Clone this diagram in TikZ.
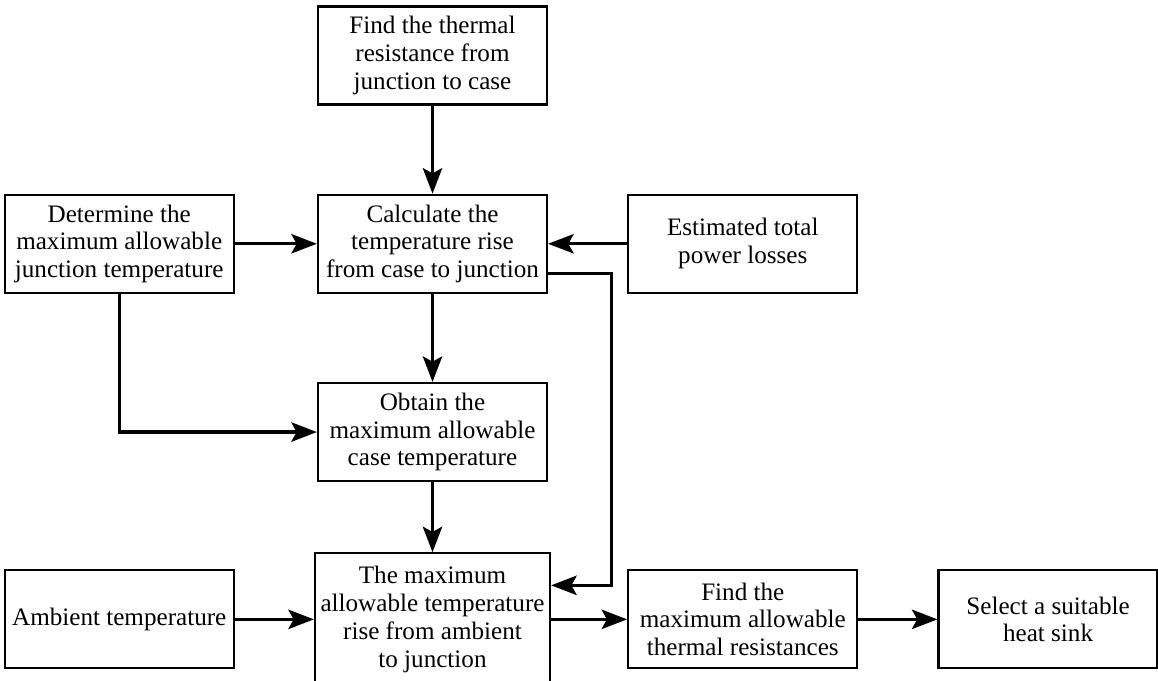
\documentclass[tikz,border=0pt]{standalone}
\usepackage{fontspec}
\setmainfont{Liberation Serif}
\usetikzlibrary{positioning,arrows.meta}

\begin{document}
\begin{tikzpicture}[
node distance=1.6cm,
box/.style={draw,line width=1.3pt,minimum width=4.58cm,minimum height=1.96cm,align=center,inner sep=2pt,font=\fontsize{14.3}{15.8}\selectfont},
arr/.style={->,line width=1.8pt},
>={Stealth[length=14.5pt,width=11pt,inset=3pt]}]
\useasboundingbox (0,0) rectangle (23.16,13.6);
\node[box] (find) at (8.65,12.49) {Find the thermal\\resistance from\\junction to case};
\node[box] (calc) [below=1.76cm of find] {Calculate the\\temperature rise\\from case to junction};
\node[box] (det) [left=1.64cm of calc] {Determine the\\maximum allowable\\junction temperature};
\node[box] (est) [right=1.58cm of calc] {Estimated total\\power losses};
\node[box] (obtain) [below=1.76cm of calc] {Obtain the\\maximum allowable\\case temperature};
\node[box,minimum width=4.7cm,minimum height=2.64cm] (rise) [below=1.4cm of obtain] {The maximum\\allowable temperature\\rise from ambient\\to junction};
\node[box] (amb) [left=1.58cm of rise] {Ambient temperature};
\node[box] (maxres) [right=1.52cm of rise] {Find the\\maximum allowable\\thermal resistances};
\node[box,minimum width=4.38cm] (sink) [right=1.58cm of maxres] {Select a suitable\\heat sink};
\draw[arr] (find)--(calc);
\draw[arr] (det)--(calc);
\draw[arr] (est)--(calc);
\draw[arr] (calc)--(obtain);
\draw[arr] (det.south) |- (obtain.west);
\draw[arr] (obtain)--(rise);
\draw[arr] ([yshift=-0.59cm]calc.east) -- ++(1.26,0) |- ([yshift=0.68cm]rise.east);
\draw[arr] (amb)--(rise);
\draw[arr] (rise)--(maxres);
\draw[arr] (maxres)--(sink);
\end{tikzpicture}
\end{document}
